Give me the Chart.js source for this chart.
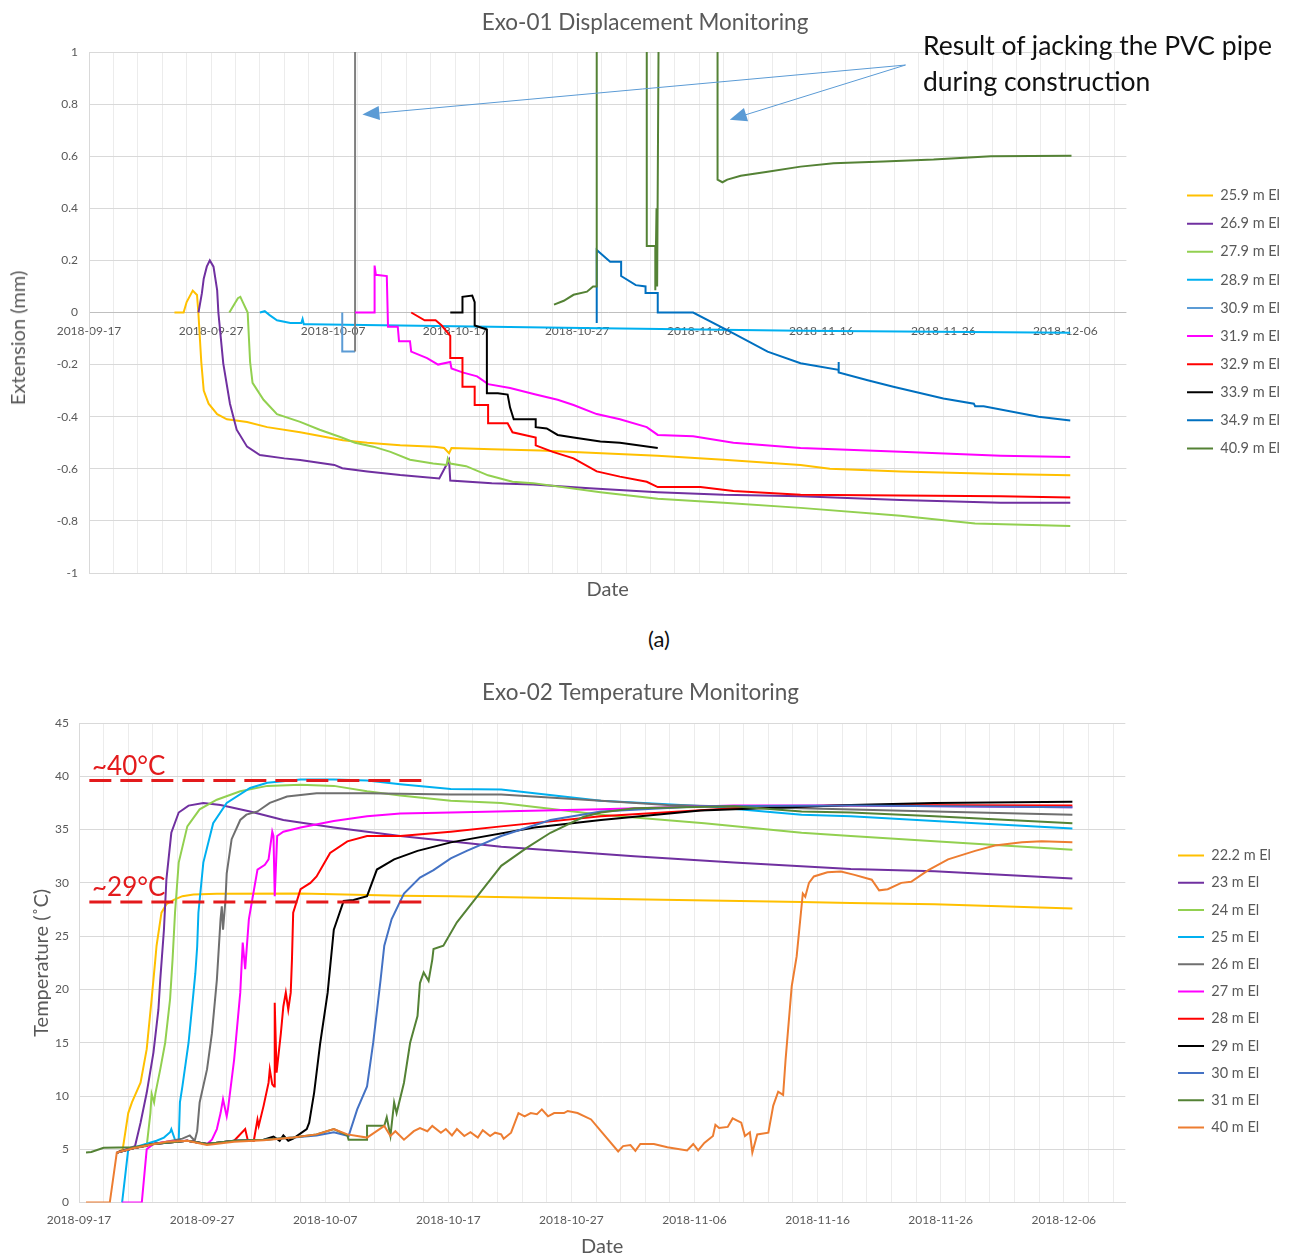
<!DOCTYPE html>
<html>
<head>
<meta charset="utf-8">
<title>Exo-01 / Exo-02 Monitoring</title>
<script src="https://cdn.jsdelivr.net/npm/chart.js@4.4.1/dist/chart.umd.min.js"></script>
<style>
  html, body { margin: 0; padding: 0; background: #fff; overflow: hidden; }
  body { width: 1290px; height: 1257px; position: relative; font-family: Lato, 'Open Sans', sans-serif; }
  .box { position: absolute; left: 0; width: 1290px; }
  #topBox { top: 0; height: 606px; }
  #bottomBox { top: 660px; height: 597px; }
  #jackNote { position: absolute; left: 923px; top: 27px; font-size: 26.5px; line-height: 36px; color: #111; white-space: nowrap; }
  #panelA { position: absolute; left: 659px; top: 638px; transform: translate(-50%, -50%); font-size: 22px; color: #111; }
  #extTitle { position: absolute; left: 17px; top: 338px; transform: translate(-50%, -50%) rotate(-90deg);
      font-size: 20px; color: #595959; white-space: nowrap; }
  .redNote { position: absolute; left: 92px; font-size: 26px; line-height: 30px; color: #e31a1c; }
  #note40 { top: 750px; }
  #note29 { top: 871px; }
</style>
</head>
<body>
<div id="topBox" class="box"><canvas id="dispChart"></canvas></div>
<div id="bottomBox" class="box"><canvas id="tempChart"></canvas></div>
<div id="extTitle">Extension (mm)</div>
<div id="jackNote">Result of jacking the PVC pipe<br>during construction</div>
<div id="panelA">(a)</div>
<div class="redNote" id="note40">~40°C</div>
<div class="redNote" id="note29">~29°C</div>
<script>
// x values are days since 2018-09-17
const xTickLabels = ['2018-09-17', '2018-09-27', '2018-10-07', '2018-10-17', '2018-10-27',
    '2018-11-06', '2018-11-16', '2018-11-26', '2018-12-06'];

// ---- Exo-01 extension (mm) ----
const extLabels = ['25.9 m El', '26.9 m El', '27.9 m El', '28.9 m El', '30.9 m El',
    '31.9 m El', '32.9 m El', '33.9 m El', '34.9 m El', '40.9 m El'];
const extColors = ['#ffc000', '#7030a0', '#92d050', '#00b0f0', '#5b9bd5',
    '#ff00ff', '#ff0000', '#000000', '#0070c0', '#548235'];

const ext259 = [[7.0,0],[7.75,0],[8.0,0.04],[8.5,0.084],[8.85,0.067],[8.96,0],[9.2,-0.19],[9.4,-0.3],[9.8,-0.35],
    [10.5,-0.39],[11.3,-0.41],[12.95,-0.42],[14.6,-0.44],[17.3,-0.46],[20.8,-0.49],[22.8,-0.5],[25.5,-0.51],
    [28.3,-0.515],[29.1,-0.52],[29.5,-0.54],[29.7,-0.52],[33,-0.525],[37,-0.53],[42,-0.54],[46.6,-0.55],
    [52,-0.565],[58.3,-0.585],[60.7,-0.6],[66.5,-0.61],[74.7,-0.62],[80.4,-0.625]];
const ext269 = [[8.97,0],[9.25,0.074],[9.4,0.13],[9.65,0.176],[9.9,0.2],[10.2,0.176],[10.5,0.086],[10.6,0],
    [11.0,-0.195],[11.55,-0.35],[12.1,-0.45],[12.95,-0.515],[14.0,-0.547],[16.0,-0.56],[17.3,-0.566],
    [20.1,-0.585],[20.75,-0.598],[22.8,-0.61],[25.5,-0.624],[28.7,-0.637],[29.5,-0.566],[29.6,-0.645],
    [33,-0.655],[36.4,-0.66],[41,-0.675],[46.6,-0.69],[52,-0.7],[58.3,-0.705],[66.5,-0.72],[74.7,-0.73],[80.4,-0.73]];
const ext279 = [[11.5,0],[12.2,0.055],[12.4,0.06],[12.6,0.04],[13.0,0],[13.2,-0.19],[13.4,-0.27],[14.3,-0.335],
    [15.4,-0.39],[17.3,-0.42],[18.9,-0.45],[20.7,-0.48],[21.8,-0.5],[23.3,-0.515],[24.7,-0.535],[26.3,-0.565],
    [28.2,-0.58],[29.3,-0.585],[29.4,-0.56],[29.6,-0.58],[30.9,-0.59],[32.7,-0.625],[34.7,-0.65],[36.4,-0.655],
    [41.9,-0.69],[46.6,-0.715],[52,-0.73],[58.3,-0.75],[66.5,-0.78],[72.6,-0.81],[80.4,-0.82]];
const ext289 = [[14.0,0],[14.4,0.005],[14.8,-0.01],[15.4,-0.03],[16.5,-0.04],[17.4,-0.04],[17.5,-0.025],
    [17.6,-0.045],[18.1,-0.045],[25.5,-0.05],[41.9,-0.06],[58.3,-0.07],[80.4,-0.078]];
const ext309 = [[20.75,0],[20.75,-0.15],[21.8,-0.15]];
const ext309Spike = [[21.8,-0.15],[21.8,1.3]];
const ext319 = [[21.8,0],[23.4,0],[23.4,0.18],[23.5,0.145],[24.4,0.14],[24.5,-0.055],[25.3,-0.055],[25.4,-0.11],
    [26.3,-0.11],[26.4,-0.15],[27.7,-0.175],[28.6,-0.2],[29.6,-0.19],[29.7,-0.215],[30.6,-0.23],[31.8,-0.245],
    [32.7,-0.275],[34.5,-0.29],[36.6,-0.315],[38.4,-0.335],[39.7,-0.355],[41.6,-0.39],[43.5,-0.41],[45.7,-0.44],
    [46.6,-0.47],[49.5,-0.475],[52.8,-0.5],[58.3,-0.52],[66.5,-0.535],[74.7,-0.55],[80.4,-0.555]];
const ext329 = [[26.4,0],[27.5,-0.03],[28.4,-0.03],[28.9,-0.05],[29.6,-0.09],[29.6,-0.175],[30.6,-0.175],
    [30.6,-0.285],[31.6,-0.285],[31.6,-0.355],[32.7,-0.355],[32.7,-0.425],[34.3,-0.425],[34.7,-0.46],[36.6,-0.48],
    [36.6,-0.51],[38.0,-0.535],[39.7,-0.56],[41.6,-0.61],[43.5,-0.63],[45.7,-0.65],[46.6,-0.67],[50.1,-0.67],
    [52.8,-0.685],[58.3,-0.7],[74.7,-0.705],[80.4,-0.71]];
const ext339 = [[29.6,0],[30.6,0],[30.6,0.06],[31.4,0.065],[31.6,0.04],[31.6,-0.05],[32.6,-0.065],[32.6,-0.31],
    [33.5,-0.31],[34.3,-0.315],[34.5,-0.365],[34.8,-0.41],[36.6,-0.41],[36.6,-0.44],[37.5,-0.445],[38.4,-0.47],
    [39.7,-0.48],[41.9,-0.495],[43.5,-0.5],[46.6,-0.52]];
const ext349 = [[41.6,-0.04],[41.6,0.24],[42.7,0.195],[43.6,0.195],[43.6,0.14],[44.8,0.105],[45.6,0.1],[45.6,0.075],
    [46.6,0.075],[46.6,0],[49.5,0],[52.8,-0.08],[55.6,-0.15],[58.3,-0.195],[61.4,-0.22],[61.4,-0.19],[61.45,-0.23],
    [63.8,-0.26],[65.9,-0.285],[70.0,-0.33],[72.5,-0.35],[72.6,-0.36],[73.3,-0.36],[77.8,-0.4],[80.4,-0.415]];
const ext409 = [[38.1,0.03],[38.9,0.045],[39.7,0.068],[40.8,0.08],[41.3,0.1],[41.6,0.1],[41.6,1.3],[45.7,1.3],
    [45.7,0.255],[46.4,0.255],[46.4,0.085],[46.5,0.4],[46.55,0.1],[46.7,1.3],[51.5,1.3],[51.5,0.51],[51.9,0.5],
    [52.3,0.51],[53.4,0.525],[55.6,0.54],[58.3,0.56],[61.0,0.573],[65.1,0.58],[69.2,0.587],[73.9,0.6],[80.5,0.602]];
const extSeries = [ext259, ext269, ext279, ext289, ext309, ext319, ext329, ext339, ext349, ext409];

// annotation arrows (day, mm)
const arrowFrom = [66.9, 0.95];
const arrowTips = [[22.4, 0.76], [52.5, 0.74]];

// ---- Exo-02 temperature (deg C) ----
const tempLabels = ['22.2 m El', '23 m El', '24 m El', '25 m El', '26 m El', '27 m El',
    '28 m El', '29 m El', '30 m El', '31 m El', '40 m El'];
const tempColors = ['#ffc000', '#7030a0', '#92d050', '#00b0f0', '#6f6f6f', '#ff00ff',
    '#ff0000', '#000000', '#4472c4', '#548235', '#ed7d31'];

const t222 = [[3.1,4.7],[3.55,5.0],[4.0,8.4],[4.3,9.4],[5.0,11.25],[5.5,14.4],[5.9,19.1],[6.2,22.8],[6.3,24.1],
    [6.7,27.2],[7.1,28.0],[7.7,28.4],[8.4,28.75],[9.3,28.9],[11.2,28.97],[18.0,29.0],[26.1,28.8],[30.2,28.75],
    [42.4,28.5],[58.7,28.2],[62.7,28.1],[69.5,28.0],[80.7,27.6]];
const t23 = [[3.07,4.7],[4.55,5.3],[5.0,7.5],[5.5,10.3],[6.05,14.1],[6.45,18.1],[6.6,20.9],[6.9,25.6],[7.1,30.3],
    [7.5,34.7],[8.1,36.6],[8.9,37.25],[10.1,37.5],[11.5,37.3],[13.9,36.7],[16.6,35.9],[20.7,35.2],[26.1,34.4],
    [34.3,33.4],[45.1,32.5],[53.2,31.9],[62.7,31.3],[69.5,31.1],[80.7,30.4]];
const t24 = [[3.1,4.7],[4.4,5.1],[5.5,5.3],[5.8,8.4],[5.9,10.2],[6.1,9.4],[6.2,10.2],[6.6,12.5],[7.0,15],
    [7.4,19.1],[7.6,22.8],[7.8,27.2],[8.1,31.9],[8.8,35.3],[9.8,36.9],[11.2,37.8],[13.1,38.6],[15.3,39.1],
    [18.0,39.2],[20.7,39.1],[23.4,38.6],[26.1,38.2],[30.2,37.7],[34.3,37.5],[42.4,36.4],[50.8,35.6],[58.7,34.7],
    [62.7,34.4],[69.5,33.9],[80.7,33.1]];
const t25 = [[3.5,0],[4.0,5.0],[6.3,5.8],[6.9,6.1],[7.4,6.6],[7.5,6.9],[7.8,5.9],[8.1,5.8],[8.2,9.4],[8.4,10.9],
    [8.9,15],[9.3,19.7],[9.45,21.5],[9.6,24],[9.7,27.2],[10.1,31.9],[10.9,35.6],[12.0,37.5],[13.9,38.9],
    [15.3,39.4],[18.0,39.7],[20.7,39.7],[23.4,39.6],[26.1,39.25],[30.2,38.8],[34.3,38.75],[42.4,37.7],
    [50.8,37.2],[58.7,36.4],[62.7,36.25],[69.5,35.8],[80.7,35.1]];
const t26 = [[3.1,4.7],[4.4,5.1],[6.05,5.5],[7.1,5.7],[8.4,6.0],[9.0,6.3],[9.4,5.8],[9.6,6.7],[9.8,9.4],
    [10.4,12.5],[10.8,15.9],[11.2,20.9],[11.5,26.6],[11.6,27.8],[11.7,25.6],[11.9,28.4],[12.0,30.9],[12.4,34.1],
    [13.1,35.9],[13.6,36.4],[14.5,36.7],[15.5,37.5],[16.9,38.1],[19.3,38.4],[23.4,38.4],[30.2,38.3],[34.3,38.3],
    [42.4,37.7],[47.8,37.3],[58.7,37.0],[69.5,36.7],[80.7,36.4]];
const t27 = [[3.5,0],[5.1,0],[5.5,5.0],[6.05,5.5],[7.1,5.7],[8.8,5.8],[10.4,5.5],[10.8,5.9],[11.2,6.9],[11.5,8.4],
    [11.7,9.7],[12.0,8.1],[12.1,8.75],[12.6,13.4],[13.1,19.7],[13.3,24.4],[13.5,21.9],[13.8,26.6],[14.5,31.25],
    [15.1,31.7],[15.4,32.2],[15.7,34.8],[15.8,34.4],[15.9,28.75],[16.1,34.4],[16.6,34.8],[18.0,35.2],[20.7,35.8],
    [23.4,36.25],[26.1,36.5],[30.2,36.6],[42.4,36.9],[53.2,37.25],[62.7,37.25],[80.7,37.1]];
const t28 = [[3.1,4.7],[4.4,5.1],[6.05,5.5],[8.8,5.8],[10.4,5.5],[12.6,5.8],[13.5,6.9],[13.7,5.9],[14.2,5.8],
    [14.5,7.8],[14.6,7.2],[15.0,9.1],[15.4,11.25],[15.5,12.5],[15.7,11.1],[15.85,10.9],[15.9,18.75],[16.05,12.2],
    [16.4,15.9],[16.6,18.4],[16.8,19.7],[17.0,18.1],[17.2,19.7],[17.3,22.8],[17.4,27.2],[18.0,29.4],[18.8,30.0],
    [19.3,30.6],[20.4,32.8],[21.8,33.9],[23.4,34.4],[26.1,34.4],[30.2,34.8],[34.3,35.3],[42.4,36.25],[53.2,37.0],
    [62.7,37.3],[80.7,37.25]];
const t29 = [[3.1,4.7],[4.4,5.1],[6.05,5.5],[8.8,5.8],[10.4,5.5],[12.6,5.8],[15.0,5.9],[15.8,6.2],[16.3,5.8],
    [16.6,6.3],[17.0,5.8],[17.4,6.0],[18.5,6.9],[18.7,7.5],[19.1,10.3],[19.6,15],[20.2,19.7],[20.3,20.9],
    [20.7,25.6],[21.5,28.3],[22.3,28.4],[23.4,28.75],[24.2,31.25],[25.6,32.2],[27.5,33.0],[30.2,33.8],[37.0,35.2],
    [42.4,35.9],[50.5,36.8],[62.7,37.3],[69.5,37.5],[80.7,37.6]];
const t30 = [[3.1,4.7],[4.4,5.1],[6.05,5.5],[8.8,5.8],[10.4,5.5],[12.6,5.8],[15.0,5.9],[17.4,6.1],[19.3,6.3],
    [20.7,6.6],[21.9,6.25],[22.6,8.75],[23.4,10.9],[23.9,15],[24.5,20.9],[24.8,24.1],[25.4,26.6],[26.4,29.0],
    [27.7,30.5],[28.8,31.2],[30.2,32.3],[31.5,33.0],[34.3,34.4],[38.3,35.9],[42.4,36.7],[50.5,37.2],[62.7,37.25],
    [80.7,37.1]];
const t31 = [[0.57,4.7],[1.0,4.75],[2.0,5.15],[4.4,5.2],[6.05,5.5],[8.8,5.8],[10.4,5.5],[12.6,5.8],[15.0,5.9],
    [17.4,6.1],[19.3,6.4],[20.7,6.9],[21.8,6.3],[21.9,5.9],[23.4,5.9],[23.4,7.2],[24.8,7.2],[25.0,8.0],[25.3,6.25],
    [25.6,9.4],[25.8,8.4],[26.4,11.25],[26.9,15],[27.5,17.5],[27.7,20.6],[28.0,21.6],[28.4,20.8],[28.7,22.8],
    [28.8,23.8],[29.6,24.1],[30.7,26.3],[32.4,28.8],[34.3,31.6],[36.4,33.3],[38.3,34.7],[41.0,36.2],[42.4,36.6],
    [45.1,37.0],[53.2,37.2],[58.7,36.7],[62.7,36.6],[69.5,36.25],[80.7,35.6]];
const t40 = [[0.57,0],[2.5,0],[3.07,4.7],[4.4,5.1],[6.05,5.47],[7.1,5.7],[8.8,5.8],[10.4,5.4],[12.6,5.7],
    [15.0,5.85],[17.4,6.1],[19.3,6.4],[20.7,6.9],[21.8,6.4],[23.4,6.1],[24.8,7.2],[25.3,6.25],[25.7,6.7],
    [26.4,5.9],[27.2,6.7],[27.7,7.0],[28.3,6.7],[28.7,7.2],[29.4,6.56],[29.8,6.9],[30.3,6.3],[30.7,6.9],
    [31.3,6.25],[31.8,6.6],[32.4,6.1],[32.8,6.8],[33.4,6.25],[33.8,6.56],[34.3,6.4],[34.5,6.0],[35.1,6.56],
    [35.7,8.4],[36.2,8.1],[36.7,8.4],[37.2,8.3],[37.6,8.75],[38.1,8.1],[38.6,8.4],[39.4,8.4],[39.7,8.6],
    [40.5,8.4],[41.6,7.8],[42.4,6.7],[43.8,4.8],[44.2,5.3],[44.8,5.4],[45.2,4.85],[45.6,5.5],[46.7,5.5],
    [47.8,5.2],[49.4,4.9],[49.9,5.5],[50.3,4.9],[50.8,5.6],[51.5,6.25],[51.7,7.3],[52.0,7.0],[52.7,7.1],
    [53.1,7.9],[53.8,7.5],[54.1,6.25],[54.5,6.6],[54.7,4.7],[55.1,6.4],[56.0,6.56],[56.4,9.1],[56.8,10.4],
    [57.2,10.1],[57.4,13.4],[57.9,20.3],[58.3,23.1],[58.8,29.0],[59.0,28.7],[59.3,30.0],[59.7,30.6],[60.8,31.0],
    [61.9,31.06],[63.0,30.75],[64.4,30.3],[65.0,29.3],[65.7,29.4],[66.8,30.0],[67.6,30.1],[69.0,31.2],[70.6,32.2],
    [72.8,33.0],[74.4,33.5],[76.6,33.8],[78.2,33.9],[80.7,33.8]];
const tempSeries = [t222, t23, t24, t25, t26, t27, t28, t29, t30, t31, t40];

// red reference lines: ~40 and ~29 deg C
const refLevels = [39.6, 28.2];
const refSpan = [0.84, 27.9];

Chart.defaults.font.family = "Lato, 'Open Sans', sans-serif";
Chart.defaults.color = '#595959';

function toPoints(arr) {
    return arr.map(p => ({ x: p[0], y: p[1] }));
}

function lineSet(label, arr, color, order) {
    return {
        label: label,
        data: toPoints(arr),
        borderColor: color,
        backgroundColor: color,
        borderWidth: 2,
        pointRadius: 0,
        tension: 0,
        fill: false,
        order: order,
        xAxisID: 'x',
        yAxisID: 'y'
    };
}

function tickLabel(v) {
    return v % 10 === 0 ? xTickLabels[Math.round(v / 10)] : '';
}

const arrowPlugin = {
    id: 'jackArrows',
    afterDatasetsDraw(chart) {
        const { ctx, scales } = chart;
        const x0 = scales.x.getPixelForValue(arrowFrom[0]);
        const y0 = scales.y.getPixelForValue(arrowFrom[1]);
        ctx.save();
        ctx.strokeStyle = '#5b9bd5';
        ctx.fillStyle = '#5b9bd5';
        ctx.lineWidth = 1;
        arrowTips.forEach(t => {
            const x1 = scales.x.getPixelForValue(t[0]);
            const y1 = scales.y.getPixelForValue(t[1]);
            const ang = Math.atan2(y1 - y0, x1 - x0);
            const len = 17, half = 7;
            const bx = x1 - len * Math.cos(ang), by = y1 - len * Math.sin(ang);
            ctx.beginPath();
            ctx.moveTo(x0, y0);
            ctx.lineTo(bx, by);
            ctx.stroke();
            ctx.beginPath();
            ctx.moveTo(x1, y1);
            ctx.lineTo(bx + half * Math.sin(ang), by - half * Math.cos(ang));
            ctx.lineTo(bx - half * Math.sin(ang), by + half * Math.cos(ang));
            ctx.closePath();
            ctx.fill();
        });
        ctx.restore();
    }
};

// legend: short line markers; an empty legend title pushes the block down
const legendOpts = (pad, shift) => ({
    position: 'right',
    title: { display: true, text: '', font: { size: 10, lineHeight: 1 }, padding: { top: shift - 10, bottom: 0 } },
    labels: {
        usePointStyle: true,
        pointStyle: 'line',
        pointStyleWidth: 26,
        padding: pad,
        color: '#595959',
        font: { size: 14.5 },
        filter: item => item.text !== '',
        sort: (a, b) => a.datasetIndex - b.datasetIndex
    }
});

document.addEventListener('DOMContentLoaded', () => {
    // Exo-01 displacement
    const extSets = extSeries.map((s, i) => lineSet(extLabels[i], s, extColors[i], 20 - i));
    extSets.push(lineSet('', ext309Spike, '#7f7f7f', 15));

    new Chart(document.getElementById('dispChart'), {
        type: 'line',
        data: { datasets: extSets },
        options: {
            responsive: true,
            maintainAspectRatio: false,
            animation: false,
            events: [],
            layout: { padding: { left: 0, right: 0, top: 0, bottom: 0 } },
            plugins: {
                title: {
                    display: true,
                    text: 'Exo-01 Displacement Monitoring',
                    color: '#595959',
                    font: { size: 22.5, weight: 'normal' },
                    padding: { top: 9, bottom: 16 }
                },
                legend: legendOpts(13.6, 38),
                tooltip: { enabled: false }
            },
            scales: {
                x: {
                    type: 'linear', min: 0, max: 85,
                    grid: { color: '#ececec', drawTicks: false },
                    border: { color: '#d9d9d9' },
                    ticks: { display: false, stepSize: 2, includeBounds: false },
                    title: { display: true, text: 'Date', color: '#595959', font: { size: 20, lineHeight: 1 }, padding: { top: 7, bottom: 6 } }
                },
                xLab: {
                    type: 'linear', axis: 'x', position: { y: 0 }, min: 0, max: 85,
                    grid: { display: false, drawTicks: false },
                    border: { display: false },
                    ticks: { stepSize: 10, includeBounds: false, autoSkip: false, maxRotation: 0, padding: 11,
                        color: '#595959', font: { size: 12 }, callback: tickLabel }
                },
                y: {
                    type: 'linear', min: -1, max: 1,
                    ticks: { stepSize: 0.2, padding: 11, color: '#595959', font: { size: 12 },
                        callback: v => String(Number(v.toFixed(1))) },
                    grid: { drawTicks: false, color: c => Math.abs(c.tick.value) < 1e-9 ? '#bfbfbf' : '#d9d9d9' },
                    border: { color: '#d9d9d9' },
                    afterFit: s => { s.width = 89; }
                },
                gap: {
                    type: 'linear', position: 'right',
                    grid: { display: false, drawTicks: false },
                    border: { display: false },
                    ticks: { display: false },
                    afterFit: s => { s.width = 47; }
                }
            }
        },
        plugins: [arrowPlugin]
    });

    // Exo-02 temperature
    const tempSets = tempSeries.map((s, i) => lineSet(tempLabels[i], s, tempColors[i], 20 - i));
    refLevels.forEach(lv => {
        const ref = lineSet('', [[refSpan[0], lv], [refSpan[1], lv]], '#e31a1c', -10);
        ref.borderWidth = 3;
        ref.borderDash = [22, 9];
        tempSets.push(ref);
    });

    new Chart(document.getElementById('tempChart'), {
        type: 'line',
        data: { datasets: tempSets },
        options: {
            responsive: true,
            maintainAspectRatio: false,
            animation: false,
            events: [],
            layout: { padding: { left: 0, right: 9, top: 0, bottom: 0 } },
            plugins: {
                title: {
                    display: true,
                    text: 'Exo-02 Temperature Monitoring',
                    color: '#595959',
                    font: { size: 22.5, weight: 'normal' },
                    padding: { top: 19, bottom: 17 }
                },
                legend: legendOpts(12.7, 66),
                tooltip: { enabled: false }
            },
            scales: {
                x: {
                    type: 'linear', min: 0, max: 85,
                    grid: { color: '#ececec', drawTicks: false },
                    border: { color: '#d9d9d9' },
                    ticks: { stepSize: 2, includeBounds: false, autoSkip: false, maxRotation: 0, padding: 10,
                        color: '#595959', font: { size: 12 }, callback: tickLabel },
                    title: { display: true, text: 'Date', color: '#595959', font: { size: 20, lineHeight: 1 }, padding: { top: 0, bottom: 0 } }
                },
                y: {
                    type: 'linear', min: 0, max: 45,
                    ticks: { stepSize: 5, padding: 10, color: '#595959', font: { size: 12 } },
                    grid: { color: '#d9d9d9', drawTicks: false },
                    border: { color: '#d9d9d9' },
                    title: { display: true, text: 'Temperature (˚C)', color: '#595959', font: { size: 20 }, padding: { top: 30, bottom: 0 } },
                    afterFit: s => { s.width = 79; }
                },
                gap: {
                    type: 'linear', position: 'right',
                    grid: { display: false, drawTicks: false },
                    border: { display: false },
                    ticks: { display: false },
                    afterFit: s => { s.width = 40; }
                }
            }
        }
    });
});
</script>
</body>
</html>
